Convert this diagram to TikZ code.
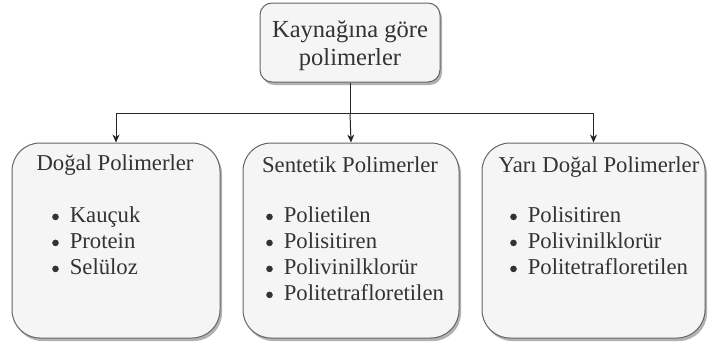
\documentclass[tikz,border=0pt]{standalone}
\usepackage{fontspec}
\setmainfont{Liberation Serif}
\usetikzlibrary{shadows,arrows.meta}
\definecolor{boxfill}{HTML}{F5F5F5}
\definecolor{boxline}{HTML}{666666}
\definecolor{txt}{HTML}{333333}
\tikzset{
  box/.style={draw=boxline, fill=boxfill, line width=1pt, inner sep=0pt,
    drop shadow={shadow xshift=2pt, shadow yshift=-3pt, opacity=0.3, fill=black}},
  conn/.style={draw=black!85, line width=1pt, -{Stealth[length=8pt,width=7pt]}},
  plain/.style={draw=black!85, line width=1pt},
  ttl/.style={anchor=base, inner sep=0pt, text=txt, font=\fontsize{22.7}{26}\selectfont},
  toptxt/.style={anchor=base, inner sep=0pt, text=txt, font=\fontsize{24.5}{28}\selectfont},
  itm/.style={anchor=base west, inner sep=0pt, text=txt, font=\fontsize{22.7}{26}\selectfont},
}
\newcommand{\bul}{\raisebox{1.8pt}{\tikz\fill[txt] (0,0) circle (3.3pt);}\hspace{11pt}}
\begin{document}
\begin{tikzpicture}[x=1pt,y=-1pt]
\useasboundingbox (0,0) rectangle (708,343);
% boxes
\node[box, rounded corners=12pt, minimum width=180pt, minimum height=79pt] (top) at (350,42.5) {};
\node[box, rounded corners=28pt, minimum width=208pt, minimum height=195pt] (c1) at (116,240.5) {};
\node[box, rounded corners=28pt, minimum width=216pt, minimum height=195pt] (c2) at (351,240.5) {};
\node[box, rounded corners=28pt, minimum width=223pt, minimum height=195pt] (c3) at (593.5,240.5) {};
% connectors
\coordinate (j) at (350,113);
\draw[plain] (top.south) -- (j);
\draw[conn] (j) -| (c1.north);
\draw[conn] (j) -- (c2.north);
\draw[conn] (j) -| (c3.north);
% top text
\node[toptxt] (t1) at (350,37) {Kaynağına göre};
\node[toptxt] (t2) at (350,65) {polimerler};
% titles
\node[ttl] (h1) at (115,170) {Doğal Polimerler};
\node[ttl] (h2) at (350,172) {Sentetik Polimerler};
\node[ttl] (h3) at (599,172) {Yarı Doğal Polimerler};
% lists
\node[itm] (a1) at (52,222) {\bul Kauçuk};
\node[itm] (a2) at (52,248) {\bul Protein};
\node[itm] (a3) at (52,274) {\bul Selüloz};
\node[itm] (b1) at (266,222) {\bul Polietilen};
\node[itm] (b2) at (266,248) {\bul Polisitiren};
\node[itm] (b3) at (266,274) {\bul Polivinilklorür};
\node[itm] (b4) at (266,300) {\bul Politetrafloretilen};
\node[itm] (d1) at (510,222) {\bul Polisitiren};
\node[itm] (d2) at (510,248) {\bul Polivinilklorür};
\node[itm] (d3) at (510,274) {\bul Politetrafloretilen};
\end{tikzpicture}
\end{document}
